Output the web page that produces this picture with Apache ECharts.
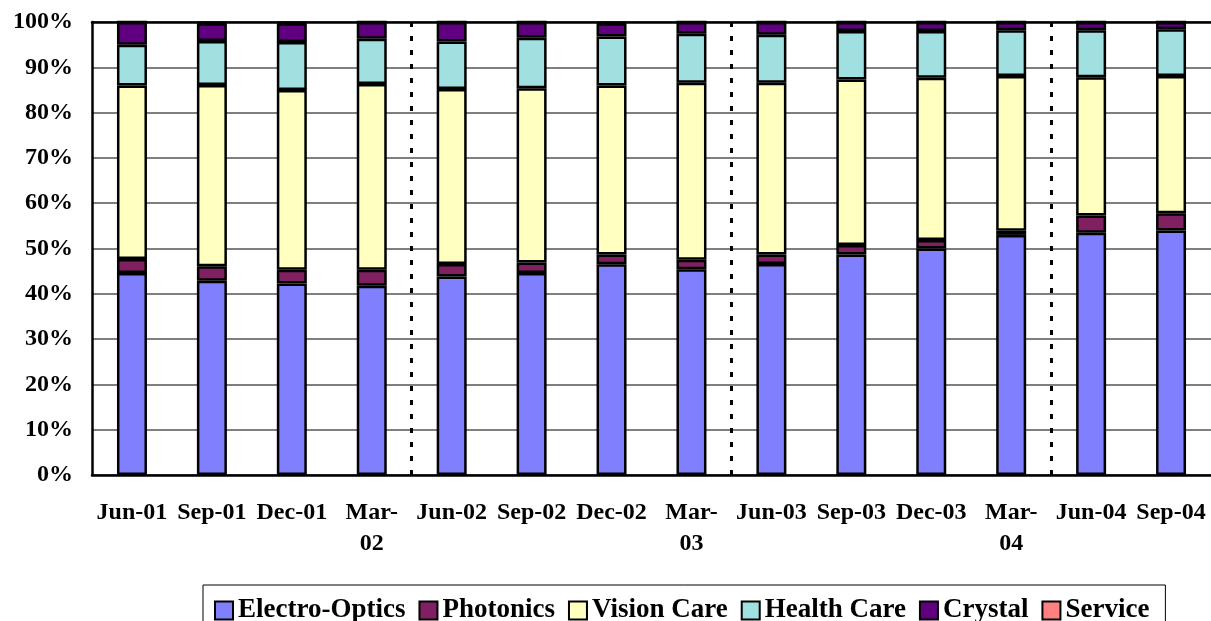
<!DOCTYPE html>
<html>
<head>
<meta charset="utf-8">
<script src="https://cdn.jsdelivr.net/npm/echarts@6/dist/echarts.min.js"></script>
<style>
    html, body {margin: 0; padding: 0; background: #fff;}
    #chart {width: 1211px; height: 621px;}
</style>
</head>
<body>
<div id="chart"></div>
<script>
// quarters
const quarters = ['Jun-01', 'Sep-01', 'Dec-01', 'Mar-02', 'Jun-02', 'Sep-02', 'Dec-02',
    'Mar-03', 'Jun-03', 'Sep-03', 'Dec-03', 'Mar-04', 'Jun-04', 'Sep-04'];

// share of each segment, %
const electroOptics = [44.6, 42.9, 42.3, 41.8, 43.8, 44.6, 46.5, 45.4, 46.6, 48.7, 50.0, 53.0, 53.5, 54.0];
const photonics = [3.1, 3.2, 3.0, 3.5, 2.8, 2.3, 2.2, 2.1, 2.1, 2.1, 1.9, 0.9, 3.8, 3.8];
const visionCare = [38.3, 40.0, 39.7, 41.0, 38.6, 38.5, 37.3, 39.1, 37.9, 36.5, 35.8, 34.2, 30.5, 30.3];
const healthCare = [9.0, 9.7, 10.6, 10.0, 10.5, 11.1, 10.8, 10.8, 10.6, 10.7, 10.3, 10.1, 10.4, 10.3];
const crystal = [5.0, 3.9, 4.1, 3.7, 4.3, 3.5, 2.9, 2.6, 2.8, 2.0, 2.0, 1.8, 1.8, 1.6];
const service = [0, 0.3, 0.3, 0, 0, 0, 0.3, 0, 0, 0, 0, 0, 0, 0];

const yTicks = [0, 10, 20, 30, 40, 50, 60, 70, 80, 90, 100];

// dotted separators sit before these quarters (start of each year)
const yearStarts = ['Jun-02', 'Jun-03', 'Jun-04'];

const segments = [
    {name: 'Electro-Optics', values: electroOptics, color: '#8080FF'},
    {name: 'Photonics', values: photonics, color: '#802060'},
    {name: 'Vision Care', values: visionCare, color: '#FFFFC0'},
    {name: 'Health Care', values: healthCare, color: '#A0E0E0'},
    {name: 'Crystal', values: crystal, color: '#600080'},
    {name: 'Service', values: service, color: '#FF8080'}
];

const font = 'Liberation Serif, Times New Roman, serif';

const series = segments.map((s) => {
    return {
        name: s.name,
        type: 'bar',
        stack: 'total',
        barWidth: 30,
        data: s.values,
        itemStyle: {color: s.color, borderColor: '#000', borderWidth: 2.5},
        emphasis: {disabled: true}
    }
});

//年份分隔虚线, 用一条隐藏的数值轴来定位到类目边界
series.push({
    name: 'year-separator',
    type: 'line',
    xAxisIndex: 2,
    data: [],
    silent: true,
    markLine: {
        symbol: 'none',
        silent: true,
        label: {show: false},
        lineStyle: {color: '#000', width: 3, type: [5, 9]},
        data: yearStarts.map((q) => ({xAxis: quarters.indexOf(q)}))
    }
});

const chart = echarts.init(document.getElementById('chart'), null, {renderer: 'canvas'});
chart.setOption({
    animation: false,
    textStyle: {fontFamily: font},
    grid: {left: 92, top: 22, width: 1120, height: 453},
    legend: {
        left: 203,
        top: 585,
        padding: [12, 16, 20, 11],
        itemGap: 13,
        itemWidth: 18,
        itemHeight: 18,
        borderColor: '#000',
        borderWidth: 1,
        icon: 'rect',
        itemStyle: {borderColor: '#000', borderWidth: 2},
        textStyle: {fontFamily: font, fontWeight: 'bold', fontSize: 27, color: '#000'},
        data: segments.map((s) => s.name)
    },
    xAxis: [{
        type: 'category',
        data: quarters,
        axisLine: {lineStyle: {color: '#000', width: 2.5}},
        axisTick: {show: false},
        axisLabel: {
            interval: 0,
            margin: 22,
            fontFamily: font,
            fontWeight: 'bold',
            fontSize: 24,
            lineHeight: 31,
            color: '#000',
            formatter: (v) => v.startsWith('Mar') ? v.replace('-', '-\n') : v
        }
    }, {
        type: 'category',
        data: quarters,
        position: 'top',
        axisLine: {lineStyle: {color: '#000', width: 2.5}},
        axisTick: {show: false},
        axisLabel: {show: false}
    }, {
        type: 'value',
        min: 0,
        max: quarters.length,
        show: false
    }],
    yAxis: {
        type: 'value',
        min: yTicks[0],
        max: yTicks[yTicks.length - 1],
        interval: 10,
        axisLine: {show: true, lineStyle: {color: '#000', width: 2.5}},
        axisTick: {show: false},
        axisLabel: {
            margin: 19,
            fontFamily: font,
            fontWeight: 'bold',
            fontSize: 24,
            color: '#000',
            formatter: '{value}%'
        },
        splitLine: {lineStyle: {color: '#555', width: 1.5}}
    },
    series: series
});
</script>
</body>
</html>
